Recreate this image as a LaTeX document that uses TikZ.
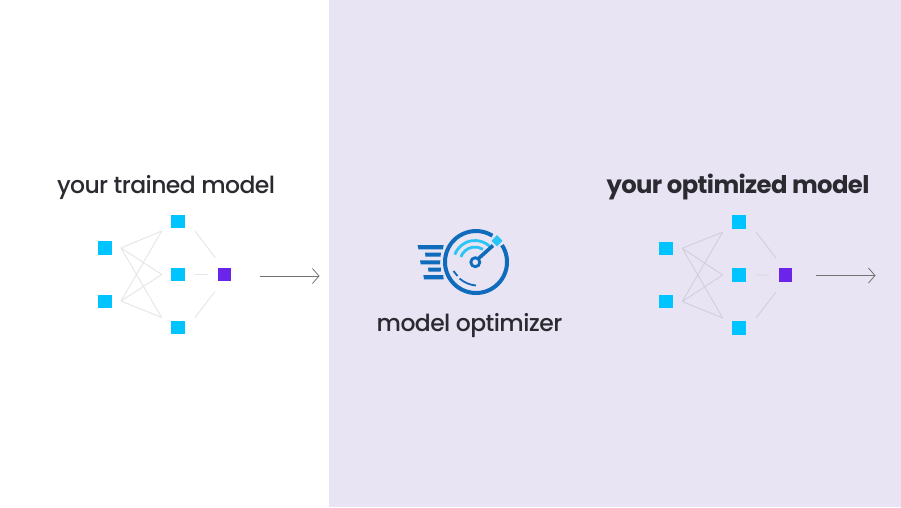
\documentclass[tikz,border=0pt]{standalone}
\usepackage{fontspec}
\setmainfont{Poppins}
\newfontfamily\popm[LetterSpace=-2.5]{Poppins Medium}
\newfontfamily\popb[LetterSpace=-2.5]{Poppins Bold}
\usetikzlibrary{arrows.meta}
\definecolor{panel}{HTML}{E8E4F3}
\definecolor{sq}{HTML}{00C4FF}
\definecolor{pur}{HTML}{6B24EA}
\definecolor{iconb}{HTML}{0F6CBD}
\definecolor{iconc}{HTML}{29C5F6}
\definecolor{ink}{HTML}{2A2A30}
\definecolor{linkl}{HTML}{E6E6E6}
\definecolor{linkd}{HTML}{D2CEDD}
\tikzset{
  px/.style={x=1pt,y=-1pt},
  unit/.style={draw=none,inner sep=0pt,minimum size=13.6pt,fill=sq},
  outunit/.style={unit,fill=pur},
  linkA/.style={draw=linkl,line width=.9pt},
  linkB/.style={draw=linkd,line width=.9pt},
  flow/.style={draw=black!55,line width=.9pt,-{Straight Barb[length=6.5pt,width=15pt,line width=.8pt]}},
  title/.style={text=ink,inner sep=0pt,anchor=base},
  speed/.style={fill=iconb,draw=none},
  dial/.style={draw=iconb,line width=4pt},
  sweep/.style={draw=iconc,line width=2.8pt},
}
\begin{document}
\begin{tikzpicture}[px]
\useasboundingbox (0,0) rectangle (901,507);
\fill[white] (0,0) rectangle (901,507);
\fill[panel] (329,0) rectangle (901,507);

% left network
\node[unit] (a1) at (105,248) {};
\node[unit] (a2) at (105,301.5) {};
\node[unit] (b1) at (178,221.5) {};
\node[unit] (b2) at (178,274.5) {};
\node[unit] (b3) at (178,327.5) {};
\node[outunit] (c) at (224.5,274.5) {};
\coordinate (a1o) at (121,248);
\coordinate (a2o) at (121,301);
\coordinate (b1i) at (161.7,231);
\coordinate (b2i) at (161.7,274.5);
\coordinate (b3i) at (161.7,317.5);
\coordinate (b1o) at (195,231);
\coordinate (b2o) at (195,274.5);
\coordinate (b3o) at (195,317.5);
\coordinate (c1) at (215,257.5);
\coordinate (c2) at (208,274.5);
\coordinate (c3) at (215,291.5);
\draw[linkA] (a1o) -- (b1i) (a1o) -- (b2i) (a1o) -- (b3i)
  (a2o) -- (b1i) (a2o) -- (b2i) (a2o) -- (b3i)
  (b1o) -- (c1) (b2o) -- (c2) (b3o) -- (c3);
\coordinate (la) at (260,276);
\coordinate (lb) at (319.5,276);
\draw[flow] (la) -- (lb);

% right network
\node[unit] (d1) at (666,248.3) {};
\node[unit] (d2) at (666,301.5) {};
\node[unit] (e1) at (739,222) {};
\node[unit] (e2) at (739,275) {};
\node[unit] (e3) at (739,328) {};
\node[outunit] (f) at (785.5,275) {};
\coordinate (d1o) at (682.3,248.3);
\coordinate (d2o) at (682.3,301.5);
\coordinate (e1i) at (722.7,232);
\coordinate (e2i) at (722.7,275);
\coordinate (e3i) at (722.7,318);
\coordinate (e1o) at (756,232);
\coordinate (e2o) at (756,275);
\coordinate (e3o) at (756,318);
\coordinate (f1) at (776,258);
\coordinate (f2) at (769,275);
\coordinate (f3) at (776,292);
\draw[linkB] (d1o) -- (e1i) (d1o) -- (e2i) (d1o) -- (e3i)
  (d2o) -- (e1i) (d2o) -- (e2i) (d2o) -- (e3i)
  (e1o) -- (f1) (e2o) -- (f2) (e3o) -- (f3);
\coordinate (ra) at (816,275.5);
\coordinate (rb) at (875.5,275.5);
\draw[flow] (ra) -- (rb);

% icon
\draw[dial] ([shift={(-33:31)}]476,262) arc[start angle=-33,end angle=302,radius=31];
\fill[speed] (417.5,245) -- (443.6,245) -- (443,249.4) -- (418.5,249.4) -- cycle;
\fill[speed] (425,252.7) -- (441,252.7) -- (440.5,256.7) -- (425.5,256.7) -- cycle;
\fill[speed] (420,260.3) -- (440.3,260.3) -- (440,264.3) -- (420.7,264.3) -- cycle;
\fill[speed] (428,267.7) -- (441,267.7) -- (440.7,271.7) -- (428.5,271.7) -- cycle;
\fill[speed] (423.3,275) -- (443.3,275) -- (443.6,279.3) -- (424,279.3) -- cycle;
\draw[sweep] ([shift={(-160:15)}]475,262) arc[start angle=-160,end angle=-58,radius=15];
\draw[sweep] ([shift={(-160:21.5)}]475,262) arc[start angle=-160,end angle=-48,radius=21.5];
\draw[iconb,line width=3.6pt] (478.5,258.5) -- (493,245.5);
\draw[iconb,line width=2.8pt,fill=panel] (475.3,262.2) circle[radius=4.5];
\fill[iconc] (497,235) -- (502.5,240.8) -- (497,246.3) -- (491.5,240.8) -- cycle;
\draw[iconb,line width=1.8pt] (453.5,271) -- (457.5,276);
\draw[iconb,line width=1.8pt] (459.5,278.5) .. controls (464,282.5) and (470,285) .. (476,285.5);

% text
\node[title,font=\fontsize{23.5}{26}\popm] (t1) at (166,193.5) {your trained model};
\node[title,font=\fontsize{24.3}{26}\popb] (t2) at (738,193.5) {your optimized model};
\node[title,font=\fontsize{23.5}{26}\popm] (t3) at (469.5,331) {model optimizer};
\end{tikzpicture}
\end{document}
